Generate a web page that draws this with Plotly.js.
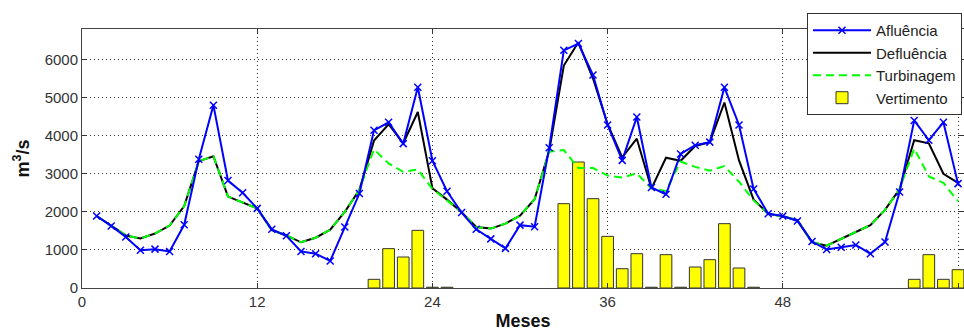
<!DOCTYPE html>
<html>
<head>
<meta charset="utf-8">
<script src="https://cdn.plot.ly/plotly-3.0.1.min.js"></script>
<style>html,body{margin:0;padding:0;background:#fff}#chart{width:964px;height:331px}</style>
</head>
<body>
<div id="chart"></div>
<script>
const meses = [1,2,3,4,5,6,7,8,9,10,11,12,13,14,15,16,17,18,19,20,21,22,23,24,25,26,27,28,29,30,31,32,33,34,35,36,37,38,39,40,41,42,43,44,45,46,47,48,49,50,51,52,53,54,55,56,57,58,59,60];
const afluencia = [1890,1630,1340,990,1020,960,1660,3380,4800,2820,2500,2090,1540,1370,960,900,710,1600,2480,4140,4350,3790,5270,3340,2540,1980,1540,1290,1040,1650,1610,3680,6240,6420,5590,4280,3350,4490,2640,2460,3520,3750,3830,5270,4280,2600,1950,1890,1760,1220,1010,1070,1130,900,1210,2520,4400,3880,4350,2740];
const defluencia = [1890,1630,1380,1300,1430,1640,2150,3330,3460,2400,2250,2090,1520,1380,1200,1320,1530,2000,2580,3870,4300,3800,4620,2620,2320,1990,1600,1560,1690,1900,2330,3600,5840,6450,5500,4300,3430,3920,2610,3420,3340,3730,3830,4870,3350,2320,1950,1880,1780,1200,1110,1280,1470,1650,2050,2600,3880,3800,3000,2760];
const turbinagem = [1890,1630,1380,1300,1430,1640,2150,3330,3460,2400,2250,2090,1520,1380,1200,1320,1530,2000,2580,3640,3270,3050,3110,2600,2300,1990,1600,1560,1690,1900,2330,3580,3620,3150,3150,2950,2900,3010,2610,2550,3320,3180,3080,3200,2790,2300,1950,1880,1780,1200,1110,1280,1470,1650,2050,2600,3660,2930,2760,2280];
const vertimento = [null,null,null,null,null,null,null,null,null,null,null,null,null,null,null,null,null,null,null,228,1033,814,1514,20,20,null,null,null,null,null,null,null,2214,3308,2345,1356,507,901,20,875,20,551,744,1689,525,20,null,null,null,null,null,null,null,null,null,null,228,875,228,481];
const xTicks = [0,12,24,36,48,60];
const yTicks = [0,1000,2000,3000,4000,5000,6000];

const traces = [
  {type:'bar', x:meses, y:vertimento, name:'Vertimento', width:0.8,
   marker:{color:'#ffff00', line:{color:'#333333', width:1}}, legendrank:4},
  {type:'scatter', mode:'lines', x:meses, y:defluencia, name:'Defluência',
   line:{color:'#000000', width:2}, legendrank:2},
  {type:'scatter', mode:'lines', x:meses, y:turbinagem, name:'Turbinagem',
   line:{color:'#00ff00', width:2, dash:'8px,5px'}, legendrank:3},
  {type:'scatter', mode:'lines+markers', x:meses, y:afluencia, name:'Afluência',
   line:{color:'#0000ff', width:2},
   marker:{symbol:'x-thin', size:7, color:'#0000ff', line:{color:'#0000ff', width:1.5}}, legendrank:1}
];

const fontFam = '"Liberation Sans", Arial, sans-serif';
const layout = {
  width:964, height:331,
  margin:{l:82, r:0, t:29, b:43, autoexpand:false},
  paper_bgcolor:'#ffffff', plot_bgcolor:'#ffffff',
  font:{family:fontFam, size:14, color:'#333333'},
  showlegend:true,
  legend:{x:0.822, y:1.062, xanchor:'left', yanchor:'top',
    bgcolor:'#ffffff', bordercolor:'#333333', borderwidth:1, itemwidth:58,
    font:{family:fontFam, size:15, color:'#222222'}, traceorder:'normal'},
  xaxis:{range:[0,60.41], tickvals:xTicks, ticktext:xTicks.map(String),
    ticks:'inside', ticklen:5, tickcolor:'#333333',
    showline:true, linecolor:'#444444', linewidth:1, mirror:'ticks',
    showgrid:true, gridcolor:'#333333', gridwidth:1, griddash:'1px,3px',
    zeroline:false, tickfont:{size:15},
    title:{text:'<b>Meses</b>', font:{size:18, color:'#111111'}, standoff:5}},
  yaxis:{range:[0,6800], tickvals:yTicks, ticktext:yTicks.map(String),
    ticks:'inside', ticklen:5, tickcolor:'#333333',
    showline:true, linecolor:'#444444', linewidth:1, mirror:'ticks',
    showgrid:true, gridcolor:'#333333', gridwidth:1, griddash:'1px,3px',
    zeroline:false, tickfont:{size:15},
    title:{text:'<b>m<sup>3</sup>/s</b>', font:{size:18, color:'#111111'}, standoff:10}},
  bargap:0.2
};

Plotly.newPlot('chart', traces, layout, {displayModeBar:false, staticPlot:true});
</script>
</body>
</html>
